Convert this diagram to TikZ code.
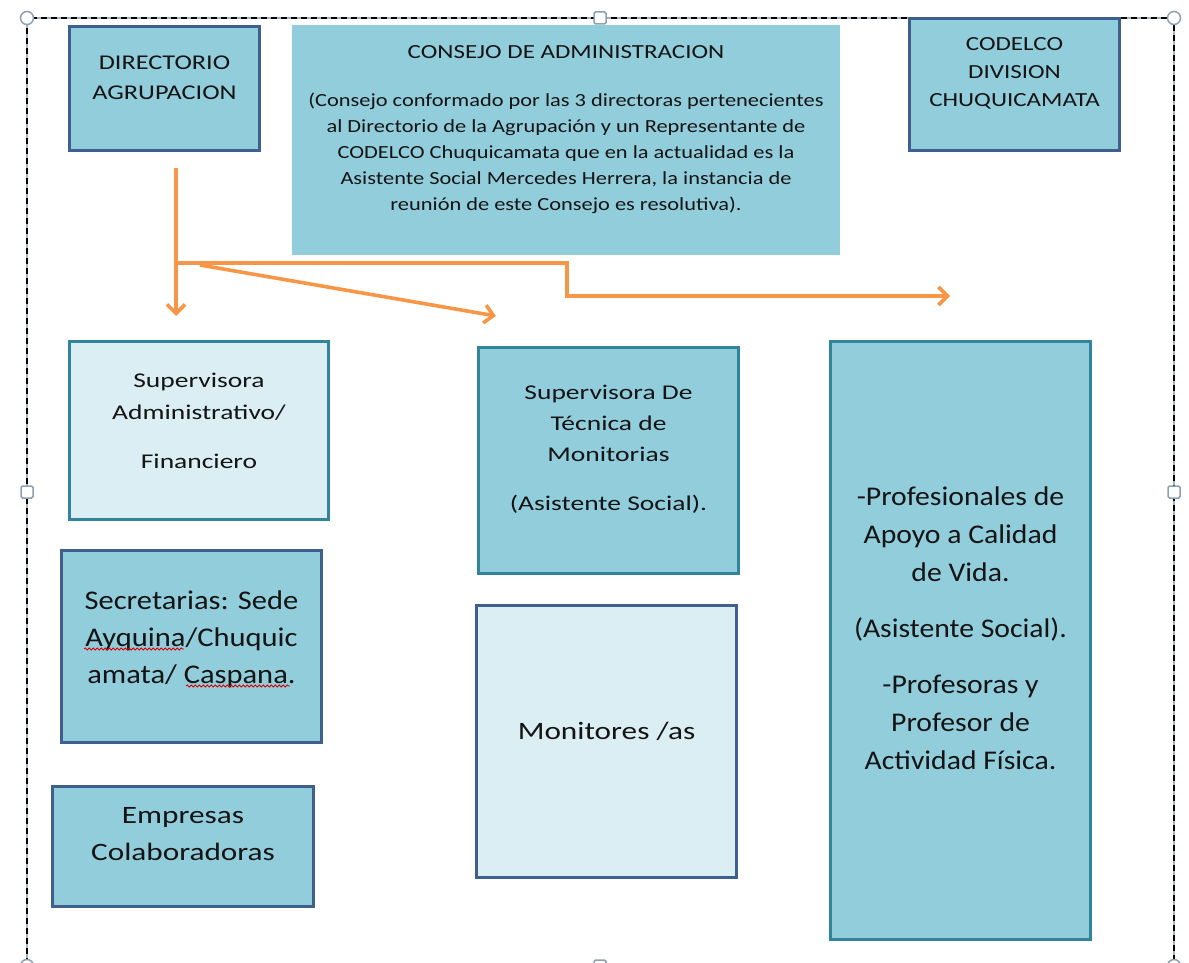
\documentclass[tikz,border=0pt]{standalone}
\usepackage{fontspec}
\setmainfont[FakeStretch=1.1]{Carlito}
\newfontfamily\fA[FakeStretch=1.25]{Carlito}
\newfontfamily\fB[FakeStretch=1.31]{Carlito}
\newfontfamily\fC[FakeStretch=1.13]{Carlito}
\newfontfamily\fD[FakeStretch=1.21]{Carlito}
\usetikzlibrary{arrows.meta,decorations.pathmorphing}
\definecolor{aqua}{HTML}{92CDDC}
\definecolor{lightaqua}{HTML}{DAEEF3}
\definecolor{darkblue}{HTML}{3F5F8C}
\definecolor{teal}{HTML}{31849B}
\definecolor{orng}{HTML}{F79646}
\definecolor{txtc}{HTML}{141414}
\definecolor{handle}{HTML}{8E9FB3}
\begin{document}
\begin{tikzpicture}[x=1pt,y=-1pt,
  boxd/.style={draw=darkblue,line width=3pt,fill=aqua,inner sep=0pt},
  boxt/.style={draw=teal,line width=3pt,fill=aqua,inner sep=0pt},
  boxl/.style={draw=teal,line width=3pt,fill=lightaqua,inner sep=0pt},
  boxld/.style={draw=darkblue,line width=3pt,fill=lightaqua,inner sep=0pt},
  txt/.style={text=txtc,align=center,inner sep=0pt},
  conn/.style={draw=orng,line width=3.6pt,-{Straight Barb[length=9pt,width=18pt,line width=3.6pt]}},
  spell/.style={draw=red!85!black,line width=0.8pt,decorate,decoration={snake,amplitude=1pt,segment length=4pt}}
]
\useasboundingbox (0,0) rectangle (1189,963);
\clip (0,0) rectangle (1189,963);
% frame
\draw[draw=handle!80,line width=2pt] (27,18) rectangle (1174,966);
\draw[black,line width=2.6pt,dash pattern=on 6pt off 4pt] (27,18) rectangle (1174,966);

% boxes
\node[boxd,minimum width=190,minimum height=124] (dir) at (164.5,88.5) {};
\node[fill=aqua,minimum width=548,minimum height=230,inner sep=0pt] (cons) at (566,140) {};
\node[boxd,minimum width=210,minimum height=132] (cod) at (1014.5,84.5) {};
\node[boxl,minimum width=259,minimum height=178] (supA) at (199,430.5) {};
\node[boxd,minimum width=260,minimum height=192] (sec) at (191.5,646.5) {};
\node[boxd,minimum width=261,minimum height=120] (emp) at (183,846.5) {};
\node[boxt,minimum width=260,minimum height=226] (supT) at (608.5,460.5) {};
\node[boxld,minimum width=260,minimum height=272] (mon) at (606.5,741.5) {};
\node[boxt,minimum width=260,minimum height=598] (prof) at (960.5,640.5) {};

% texts
\node[txt,font=\fA\fontsize{21}{30}\selectfont] (dirT) at (164.5,78) {DIRECTORIO\\AGRUPACION};
\node[txt,font=\fA\fontsize{20}{26}\selectfont] (consTitle) at (566,52) {CONSEJO DE ADMINISTRACION};
\node[txt,font=\fD\fontsize{18.5}{26}\selectfont] (consBody) at (566,153.5) {(Consejo conformado por las 3 directoras pertenecientes\\al Directorio de la Agrupación y un Representante de\\CODELCO Chuquicamata que en la actualidad es la\\Asistente Social Mercedes Herrera, la instancia de\\reunión de este Consejo es resolutiva).};
\node[txt,font=\fA\fontsize{20}{28}\selectfont] (codT) at (1014.5,73) {CODELCO\\DIVISION\\CHUQUICAMATA};
\node[txt,font=\fB\fontsize{21}{32}\selectfont] (supAT) at (199,421) {Supervisora\\Administrativo/\\[17pt]Financiero};
\node[txt,font=\fB\fontsize{21}{31}\selectfont] (supTT) at (608.5,449) {Supervisora De\\Técnica de\\Monitorias\\[18pt](Asistente Social).};
\node[txt,font=\fC\fontsize{27}{37}\selectfont] (secT) at (191.5,639) {Secretarias: Sede\\Ayquina/Chuquic\\amata/ Caspana.};
\node[txt,font=\fA\fontsize{25}{37}\selectfont] (empT) at (183,834.5) {Empresas\\Colaboradoras};
\node[txt,font=\fA\fontsize{25}{37}\selectfont] (monT) at (606.5,731) {Monitores /as};
\node[txt,font=\fontsize{27}{38}\selectfont] (profT) at (960.5,628) {-Profesionales de\\Apoyo a Calidad\\de Vida.\\[18pt](Asistente Social).\\[18pt]-Profesoras y\\Profesor de\\Actividad Física.};

% spell-check underlines
\draw[spell] (84,649) -- (184,649);
\draw[spell] (186,686) -- (290,686);

% connectors
\coordinate (a0) at (176,168);
\coordinate (a1) at (176,316);
\coordinate (b0) at (176,263);
\coordinate (b1) at (567,263);
\coordinate (b2) at (567,296);
\coordinate (b3) at (950,296);
\coordinate (c0) at (200,265);
\coordinate (c1) at (496,316);
\draw[conn] (a0) -- (a1);
\draw[conn] (b0) -- (b1) -- (b2) -- (b3);
\draw[conn] (c0) -- (c1);

% selection handles
\foreach \p in {(27,18),(1174,18),(27,966),(1174,966)}
  \draw[handle,line width=1.5pt,fill=white] \p circle (6.5);
\foreach \p in {(600,18),(27,492),(1174,492),(600,966)}
  \draw[handle,line width=1.5pt,fill=white,rounded corners=1.5pt] \p ++(-6,-6) rectangle ++(12,12);
\end{tikzpicture}
\end{document}
